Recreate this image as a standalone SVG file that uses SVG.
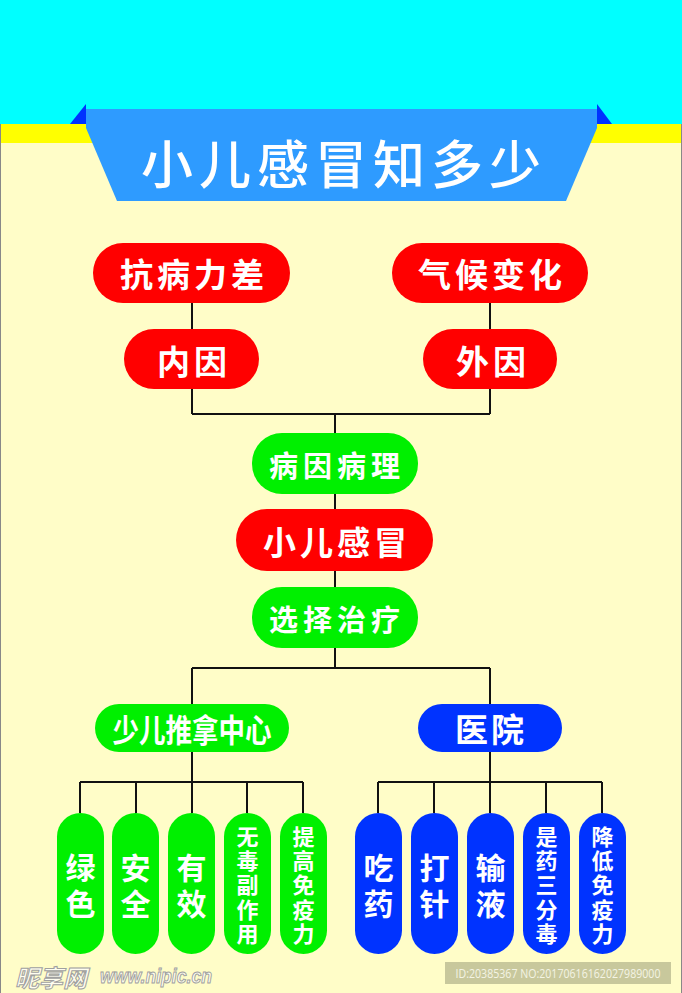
<svg xmlns="http://www.w3.org/2000/svg" width="682" height="993" viewBox="0 0 682 993">
<style>
.t{font-family:"Noto Sans CJK SC","Liberation Sans",sans-serif;font-weight:700;fill:#fff;text-anchor:middle;dominant-baseline:central}
.red{fill:#ff0000}
.grn{fill:#00f000}
.blu{fill:#0033ff}
.ln{stroke:#111;stroke-width:2;fill:none}
.big{font-size:33px;letter-spacing:4px}
.mid{font-size:29px;letter-spacing:5px}
.v2{font-size:30px}
.v5{font-size:22px}
</style>
<rect x="0" y="0" width="682" height="124" fill="#00ffff"/>
<rect x="0" y="124" width="682" height="19" fill="#ffff00"/>
<rect x="0" y="143" width="682" height="850" fill="#fffdc8"/>
<line x1="0.5" y1="124" x2="0.5" y2="993" stroke="#888" stroke-width="1"/>
<line x1="681.5" y1="124" x2="681.5" y2="993" stroke="#888" stroke-width="1"/>
<g id="banner">
<polygon points="70,124 86,104 86,124" fill="#0033ff"/>
<polygon points="612,124 597,104 597,124" fill="#0033ff"/>
<polygon points="86,109 597,109 597,128 566,201 117,201 86,128" fill="#2e9bff"/>
<text x="344" y="161" font-family="'Noto Sans CJK SC','Liberation Sans',sans-serif" font-weight="500" font-size="52" letter-spacing="6" fill="#fff" text-anchor="middle" dominant-baseline="central">小儿感冒知多少</text>
</g>
<g id="connectors">
<path class="ln" d="M192,303 V414 M490,303 V414 M192,414 H490 M335,414 V668"/>
<path class="ln" d="M192,668 H490 M192,668 V782 M490,668 V782"/>
<path class="ln" d="M80,782 H303 M80,782 V813 M136,782 V813 M192,782 V813 M247,782 V813 M303,782 V813"/>
<path class="ln" d="M378,782 H602 M378,782 V813 M434,782 V813 M490,782 V813 M546,782 V813 M602,782 V813"/>
</g>
<g id="n-kangbing"><rect class="red" x="93" y="243" width="197" height="60" rx="30"/><text class="t big" x="194" y="273">抗病力差</text></g>
<g id="n-qihou"><rect class="red" x="392" y="243" width="196" height="60" rx="30"/><text class="t big" x="492" y="273">气候变化</text></g>
<g id="n-neiyin"><rect class="red" x="124" y="329" width="135" height="60" rx="30"/><text class="t big" x="194" y="360" letter-spacing="6">内因</text></g>
<g id="n-waiyin"><rect class="red" x="423" y="329" width="134" height="60" rx="30"/><text class="t big" x="493" y="360" letter-spacing="6">外因</text></g>
<g id="n-bingyin"><rect class="grn" x="252" y="433" width="166" height="61" rx="30"/><text class="t mid" x="337" y="464">病因病理</text></g>
<g id="n-xiaoer"><rect class="red" x="236" y="509" width="197" height="62" rx="31"/><text class="t big" x="337" y="541">小儿感冒</text></g>
<g id="n-xuanze"><rect class="grn" x="252" y="587" width="166" height="61" rx="30"/><text class="t mid" x="337" y="618">选择治疗</text></g>
<g id="n-tuina"><rect class="grn" x="95" y="704" width="194" height="48" rx="24"/><text class="t" x="192" y="728" font-size="32" font-weight="500" textLength="159" lengthAdjust="spacingAndGlyphs">少儿推拿中心</text></g>
<g id="n-yiyuan"><rect class="blu" x="418" y="704" width="144" height="48" rx="24"/><text class="t" x="491" y="728" font-size="33" letter-spacing="3">医院</text></g>
<g id="n-lvse"><rect class="grn" x="57" y="813" width="47" height="141" rx="23.5"/><text class="t v2"><tspan x="80.5" y="866">绿</tspan><tspan x="80.5" y="902">色</tspan></text></g>
<g id="n-anquan"><rect class="grn" x="112" y="813" width="47" height="141" rx="23.5"/><text class="t v2"><tspan x="135.5" y="866">安</tspan><tspan x="135.5" y="902">全</tspan></text></g>
<g id="n-youxiao"><rect class="grn" x="168" y="813" width="47" height="141" rx="23.5"/><text class="t v2"><tspan x="191.5" y="866">有</tspan><tspan x="191.5" y="902">效</tspan></text></g>
<g id="n-wudu"><rect class="grn" x="224" y="813" width="47" height="141" rx="23.5"/><text class="t v5"><tspan x="247.5" y="835">无</tspan><tspan x="247.5" y="859">毒</tspan><tspan x="247.5" y="883">副</tspan><tspan x="247.5" y="908">作</tspan><tspan x="247.5" y="932">用</tspan></text></g>
<g id="n-tigao"><rect class="grn" x="280" y="813" width="47" height="141" rx="23.5"/><text class="t v5"><tspan x="303.5" y="835">提</tspan><tspan x="303.5" y="859">高</tspan><tspan x="303.5" y="883">免</tspan><tspan x="303.5" y="908">疫</tspan><tspan x="303.5" y="932">力</tspan></text></g>
<g id="n-chiyao"><rect class="blu" x="355" y="813" width="47" height="141" rx="23.5"/><text class="t v2"><tspan x="378.5" y="866">吃</tspan><tspan x="378.5" y="902">药</tspan></text></g>
<g id="n-dazhen"><rect class="blu" x="411" y="813" width="47" height="141" rx="23.5"/><text class="t v2"><tspan x="434.5" y="866">打</tspan><tspan x="434.5" y="902">针</tspan></text></g>
<g id="n-shuye"><rect class="blu" x="467" y="813" width="47" height="141" rx="23.5"/><text class="t v2"><tspan x="490.5" y="866">输</tspan><tspan x="490.5" y="902">液</tspan></text></g>
<g id="n-shiyao"><rect class="blu" x="523" y="813" width="47" height="141" rx="23.5"/><text class="t v5"><tspan x="546.5" y="835">是</tspan><tspan x="546.5" y="859">药</tspan><tspan x="546.5" y="883">三</tspan><tspan x="546.5" y="908">分</tspan><tspan x="546.5" y="932">毒</tspan></text></g>
<g id="n-jiangdi"><rect class="blu" x="579" y="813" width="47" height="141" rx="23.5"/><text class="t v5"><tspan x="602.5" y="835">降</tspan><tspan x="602.5" y="859">低</tspan><tspan x="602.5" y="883">免</tspan><tspan x="602.5" y="908">疫</tspan><tspan x="602.5" y="932">力</tspan></text></g>
<g id="watermark">
<text x="15" y="976" font-family="'Noto Sans CJK SC','Liberation Sans',sans-serif" font-weight="700" font-size="24" font-style="italic" fill="#fffef0" stroke="#a0a0a0" stroke-width="1" dominant-baseline="central">昵享网</text>
<text x="100" y="976" font-family="'Liberation Sans',sans-serif" font-weight="700" font-size="20" font-style="italic" fill="#fffef0" stroke="#a0a0a0" stroke-width="1" dominant-baseline="central" textLength="112" lengthAdjust="spacingAndGlyphs">www.nipic.cn</text>
<rect x="445" y="962" width="226" height="22" fill="#c8c89c"/>
<text x="558" y="973" font-family="'Open Sans','Liberation Sans',sans-serif" font-size="12" fill="#f4f4e4" text-anchor="middle" dominant-baseline="central" textLength="205" lengthAdjust="spacingAndGlyphs">ID:20385367 NO:20170616162027989000</text>
</g>
</svg>
